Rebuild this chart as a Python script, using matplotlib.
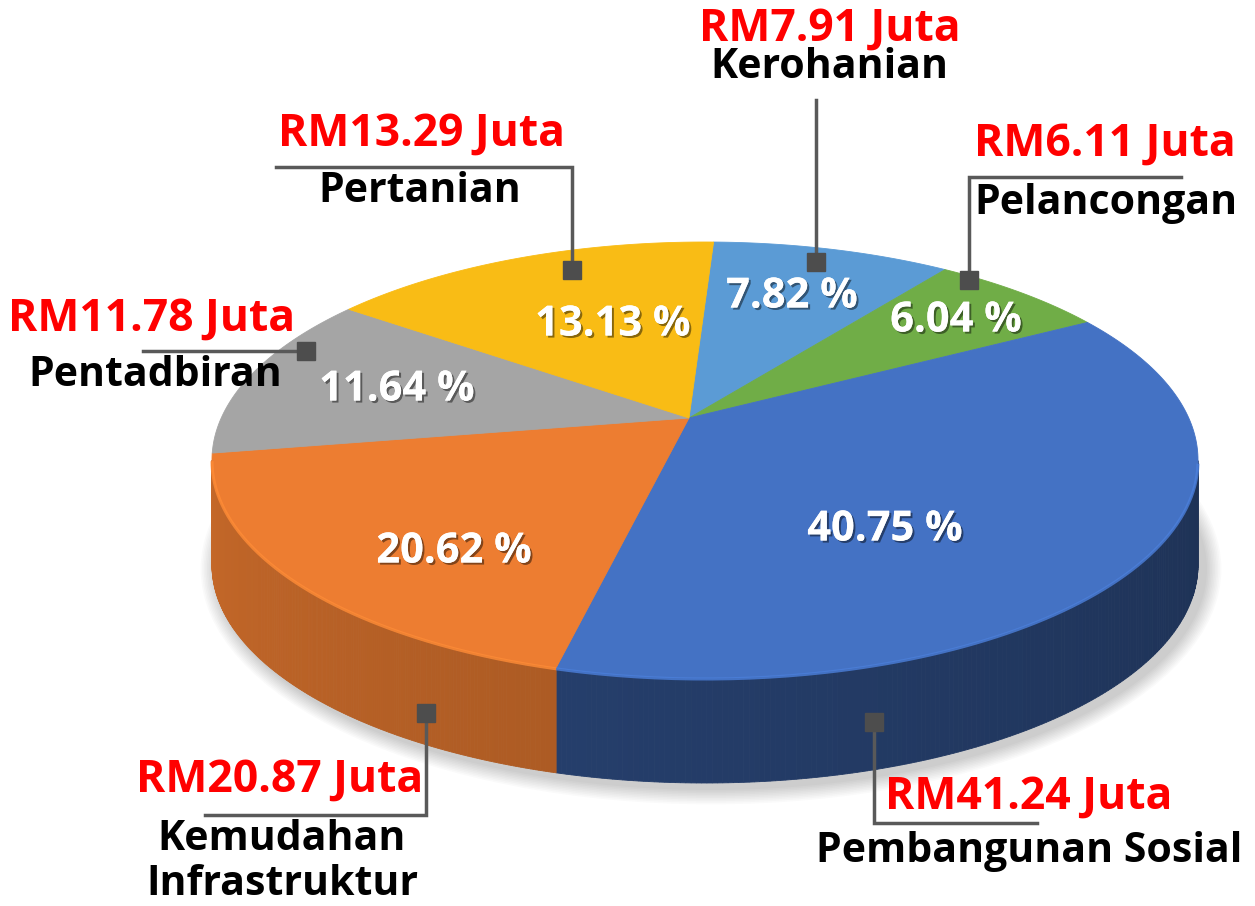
import numpy as np
import matplotlib.pyplot as plt
import matplotlib.patheffects as pe
from matplotlib.patches import Ellipse
from matplotlib.colors import to_rgb

# slices clockwise from 12 o'clock
categories = ['Kerohanian', 'Pelancongan', 'Pembangunan Sosial',
              'Kemudahan\nInfrastruktur', 'Pentadbiran', 'Pertanian']
amounts = [7.91, 6.11, 41.24, 20.87, 11.78, 13.29]   # RM juta
colors = ['#5B9BD5', '#70AD47', '#4472C4', '#ED7D31', '#A5A5A5', '#F9BC15']
side_k = [1.0, 1.0, 0.75, 1.0, 1.0, 1.0]

pct = np.array(amounts) / sum(amounts) * 100

# geometry of the tilted pie (pixel coords)
CX, CY, RX, RY = 705, 460, 493, 218
VX, VY = 689, 418
DEPTH = 105
START = 89

# label layout: percent text pos, callout path (marker first), money/name text pos
pct_pos = [(792, 297), (956, 321), (885, 530), (454, 552), (397, 390), (613, 325)]
callouts = [
    [(816, 262), (816, 100)],
    [(969, 280), (969, 177), (1181, 177)],
    [(874, 722), (874, 823), (1037, 823)],
    [(426, 713), (426, 815), (205, 815)],
    [(306, 351), (143, 351)],
    [(572, 270), (572, 167), (276, 167)],
]
money_pos = [(830, 29), (1105, 144), (1029, 797), (280, 780), (152, 319), (421, 134)]
name_pos = [(829, 68), (1106, 203), (1029, 851), (282, 862), (155, 376), (420, 191)]

fig = plt.figure(figsize=(12.55, 9.06), dpi=100)
ax = fig.add_axes([0, 0, 1, 1])
ax.set_xlim(0, 1255)
ax.set_ylim(906, 0)
ax.axis('off')

spans = pct / 100 * 360
edges = START - np.concatenate([[0], np.cumsum(spans)])


def ell(t):
    r = np.radians(t)
    return CX + RX * np.cos(r), CY - RY * np.sin(r)


# soft shadow under the pie
for i in range(10):
    ax.add_patch(Ellipse((CX + 6, CY + DEPTH + 4), 2 * (RX + 3 + i * 1.6), 2 * (RY + 3 + i * 1.6),
                         color='k', alpha=0.018, lw=0))

# side wall (front half only)
for i in range(len(amounts)):
    t = np.linspace(edges[i], edges[i + 1], 240)
    base = np.array(to_rgb(colors[i]))
    for a, b in zip(t[:-1], t[1:]):
        m = (a + b) / 2
        if np.sin(np.radians(m)) >= 0:
            continue
        p = ((m % 360) - 180) / 180
        f = (0.83 - 0.25 * p) * side_k[i]
        x1, y1 = ell(a)
        x2, y2 = ell(b)
        c = np.clip(base * f, 0, 1)
        ax.fill([x1, x2, x2, x1], [y1, y2, y2 + DEPTH, y1 + DEPTH], color=c, lw=0.6, ec=c)

# top face
for i in range(len(amounts)):
    t = np.linspace(edges[i], edges[i + 1], 200)
    x, y = ell(t)
    ax.fill(np.r_[VX, x], np.r_[VY, y], color=colors[i], ec=colors[i], lw=0.6)
    # light rim on the front edge
    front = np.sin(np.radians(t)) < 0
    if front.any():
        hl = np.clip(np.array(to_rgb(colors[i])) * 1.12, 0, 1)
        ax.plot(x[front], y[front] + 1, color=hl, lw=2.2, alpha=0.8, solid_capstyle='butt')

font = ['Open Sans', 'DejaVu Sans']
shadow = [pe.withSimplePatchShadow(offset=(1.5, -1.5), shadow_rgbFace='black', alpha=0.45), pe.Normal()]

for i in range(len(amounts)):
    ax.text(pct_pos[i][0], pct_pos[i][1], f'{pct[i]:.2f} %', color='white', fontsize=30,
            fontweight='bold', family=font, ha='center', va='center', path_effects=shadow)
    xs, ys = zip(*callouts[i])
    ax.plot(xs, ys, color='#595959', lw=2.5, solid_joinstyle='miter')
    ax.plot(xs[0], ys[0], marker='s', ms=13, color='#4D4D4D')
    ax.text(money_pos[i][0], money_pos[i][1], f'RM{amounts[i]:.2f} Juta', color='#FF0000',
            fontsize=32, fontweight='bold', family=font, ha='center', va='center')
    ax.text(name_pos[i][0], name_pos[i][1], categories[i], color='black', fontsize=29.5,
            fontweight='bold', family=font, ha='center', va='center', linespacing=1.1)

fig.savefig('out.png', dpi=100)
